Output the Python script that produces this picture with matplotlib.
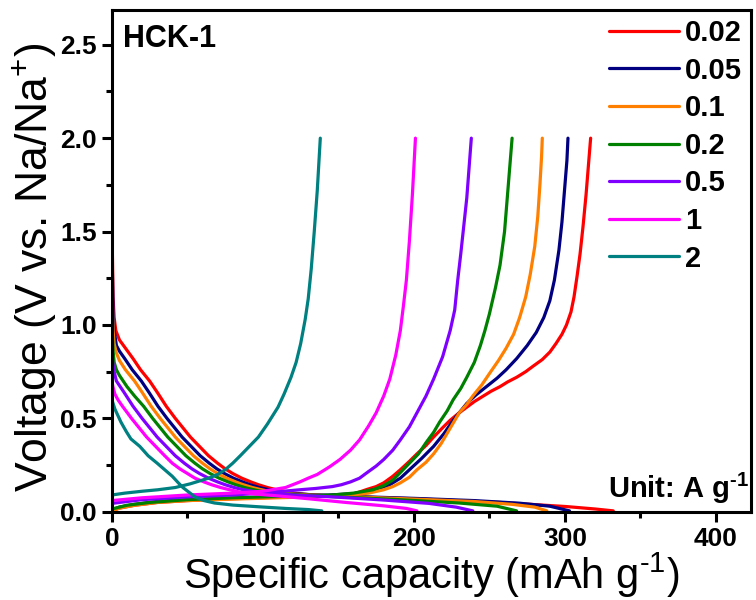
import numpy as np
import matplotlib
matplotlib.use("Agg")
import matplotlib.pyplot as plt
from matplotlib.ticker import MultipleLocator

plt.rcParams['font.family'] = ['Liberation Sans', 'DejaVu Sans']
plt.rcParams['mathtext.fontset'] = 'custom'
plt.rcParams['mathtext.rm'] = 'Liberation Sans'
plt.rcParams['mathtext.bf'] = 'Liberation Sans:bold'

rates = ["0.02", "0.05", "0.1", "0.2", "0.5", "1", "2"]
colors = ["#ff0000", "#000080", "#ff8000", "#008000", "#8000ff", "#ff00ff", "#008080"]

# discharge (sodiation) branches: capacity (mAh/g), voltage (V)
dis_cap = [
    [0, 0.3, 0.8, 1.5, 2.6, 5, 8.6, 14, 19, 25, 30, 36, 42, 47, 52, 58, 64, 70, 75, 80, 86, 92, 97, 103, 108, 114, 120, 130, 160, 200, 257, 301, 320, 332],
    [0, 0.3, 0.8, 1.5, 3, 5, 8.5, 13.5, 19.5, 24.5, 30.5, 36.5, 41.5, 46.5, 52.5, 58.5, 64.5, 69.5, 74.5, 80.5, 86.5, 91.5, 97.5, 103, 110, 120, 135, 160, 200, 240, 270, 290, 303],
    [0, 0.3, 0.8, 1.5, 3, 5, 9, 15, 20, 26, 32, 37, 42, 48, 54, 60, 65, 70, 76, 82, 87, 93, 98, 105, 115, 130, 160, 200, 240, 265, 280, 288],
    [0, 0.3, 0.8, 1.5, 3, 5, 10, 15, 21, 27, 32, 37, 43, 49, 55, 60, 65, 71, 77, 82, 88, 93, 100, 110, 125, 150, 190, 230, 255, 268],
    [0, 0.5, 1.5, 3, 8, 14, 20, 25, 30, 36, 42, 48, 53, 58, 64, 70, 75, 81, 86, 93, 103, 120, 150, 180, 210, 228, 239],
    [0, 0.7, 2, 4, 7, 13, 18, 23, 29, 35, 40, 45, 50, 55, 61, 66, 72, 77, 85, 95, 110, 130, 155, 180, 195, 202],
    [0, 2, 6, 9.5, 12.6, 18.5, 24, 30, 35, 40, 44, 47, 51, 55, 61, 68, 80, 97, 115, 130, 139],
]
dis_v = [
    [1.72, 1.4, 1.15, 1.04, 0.97, 0.92, 0.88, 0.82, 0.76, 0.70, 0.64, 0.565, 0.50, 0.45, 0.40, 0.35, 0.30, 0.26, 0.23, 0.205, 0.18, 0.16, 0.145, 0.13, 0.12, 0.11, 0.1, 0.092, 0.08, 0.07, 0.05, 0.028, 0.015, 0.005],
    [1.6, 1.3, 1.07, 0.97, 0.89, 0.86, 0.82, 0.76, 0.70, 0.64, 0.565, 0.50, 0.45, 0.40, 0.35, 0.30, 0.26, 0.23, 0.205, 0.18, 0.16, 0.145, 0.13, 0.12, 0.108, 0.098, 0.09, 0.082, 0.072, 0.06, 0.046, 0.03, 0.005],
    [1.33, 1.12, 0.97, 0.9, 0.85, 0.81, 0.76, 0.70, 0.64, 0.565, 0.50, 0.45, 0.40, 0.35, 0.30, 0.26, 0.23, 0.205, 0.18, 0.16, 0.145, 0.13, 0.12, 0.108, 0.098, 0.09, 0.08, 0.068, 0.055, 0.04, 0.025, 0.005],
    [1.1, 0.95, 0.86, 0.8, 0.76, 0.73, 0.67, 0.62, 0.565, 0.50, 0.45, 0.40, 0.35, 0.30, 0.26, 0.23, 0.205, 0.18, 0.16, 0.145, 0.13, 0.12, 0.108, 0.098, 0.09, 0.08, 0.065, 0.047, 0.03, 0.005],
    [0.85, 0.8, 0.75, 0.70, 0.64, 0.565, 0.50, 0.45, 0.40, 0.35, 0.30, 0.26, 0.23, 0.205, 0.18, 0.16, 0.145, 0.13, 0.12, 0.11, 0.1, 0.09, 0.078, 0.063, 0.045, 0.025, 0.005],
    [0.7, 0.67, 0.63, 0.60, 0.565, 0.50, 0.45, 0.40, 0.35, 0.30, 0.26, 0.23, 0.205, 0.18, 0.16, 0.145, 0.13, 0.12, 0.105, 0.095, 0.085, 0.07, 0.05, 0.032, 0.018, 0.005],
    [0.6, 0.55, 0.48, 0.43, 0.39, 0.35, 0.3, 0.26, 0.225, 0.19, 0.155, 0.13, 0.105, 0.08, 0.06, 0.047, 0.036, 0.027, 0.018, 0.012, 0.005],
]

# charge (desodiation) branches
chg_cap = [
    [0, 5, 15, 30, 50, 80, 110, 140, 160, 169, 175, 180, 186, 191, 197, 202, 208, 213, 219, 224, 230, 235, 240, 246, 251, 257, 262, 268, 274, 279, 285, 290, 294, 298, 301, 304, 306, 308, 310, 312, 314, 315.5, 317],
    [0, 5, 15, 30, 50, 80, 110, 140, 160, 169, 177, 184, 191, 197, 205, 213, 220, 226, 231, 235, 241, 248, 255, 261, 268, 275, 281, 286, 290, 293, 296, 298, 300, 301.3, 302],
    [0, 5, 15, 30, 50, 80, 110, 140, 158, 170, 180, 186, 191, 197, 202, 208, 213, 218, 222, 226, 230, 235, 239, 245, 250, 256, 261, 266, 270, 274, 277, 280, 282, 283.5, 284.5, 285],
    [0, 10, 25, 50, 80, 110, 146, 160, 173, 180, 186, 191, 197, 203, 208, 213, 217, 222, 226, 231, 235, 240, 244, 247, 250, 254, 257, 260, 262, 263.5, 265],
    [0, 20, 50, 80, 100, 124.5, 135, 146, 152, 158, 164, 169, 175, 180, 186, 191, 197, 202, 208, 213, 219, 224, 227, 229, 231, 233, 235, 236.5, 238],
    [0, 20, 50, 80, 100, 115, 124.5, 130, 136, 144, 151, 158, 164, 170, 175, 180, 184, 188, 191, 193, 195, 197, 199, 200, 201],
    [0, 8.6, 20, 30.5, 42, 52, 58, 64, 70, 75, 80, 85, 91, 97, 103, 110, 114, 118.6, 122, 125, 128, 130, 132, 134, 136, 137, 138],
]
chg_v = [
    [0.005, 0.02, 0.035, 0.05, 0.06, 0.07, 0.078, 0.085, 0.095, 0.12, 0.135, 0.155, 0.19, 0.225, 0.27, 0.31, 0.355, 0.40, 0.45, 0.49, 0.53, 0.56, 0.59, 0.62, 0.645, 0.67, 0.695, 0.72, 0.75, 0.78, 0.815, 0.855, 0.9, 0.95, 1.0, 1.07, 1.15, 1.26, 1.38, 1.53, 1.7, 1.85, 2.0],
    [0.01, 0.025, 0.04, 0.055, 0.065, 0.073, 0.08, 0.088, 0.097, 0.11, 0.125, 0.145, 0.18, 0.225, 0.285, 0.35, 0.42, 0.49, 0.54, 0.58, 0.625, 0.67, 0.715, 0.76, 0.82, 0.89, 0.96, 1.04, 1.13, 1.24, 1.4, 1.55, 1.75, 1.88, 2.0],
    [0.005, 0.02, 0.035, 0.05, 0.06, 0.068, 0.075, 0.082, 0.09, 0.1, 0.118, 0.135, 0.155, 0.185, 0.225, 0.265, 0.31, 0.365, 0.42, 0.475, 0.53, 0.575, 0.62, 0.68, 0.74, 0.81, 0.875, 0.95, 1.04, 1.15, 1.27, 1.42, 1.58, 1.76, 1.9, 2.0],
    [0.015, 0.035, 0.05, 0.065, 0.075, 0.082, 0.09, 0.1, 0.118, 0.14, 0.17, 0.21, 0.26, 0.31, 0.37, 0.425, 0.48, 0.54, 0.6, 0.66, 0.72, 0.8, 0.89, 0.97, 1.06, 1.2, 1.32, 1.5, 1.7, 1.85, 2.0],
    [0.045, 0.065, 0.08, 0.09, 0.1, 0.118, 0.125, 0.135, 0.145, 0.16, 0.18, 0.21, 0.245, 0.28, 0.33, 0.385, 0.455, 0.53, 0.62, 0.71, 0.83, 0.97, 1.08, 1.24, 1.38, 1.53, 1.68, 1.84, 2.0],
    [0.06, 0.075, 0.09, 0.1, 0.11, 0.13, 0.16, 0.18, 0.2, 0.24, 0.28, 0.33, 0.385, 0.46, 0.53, 0.62, 0.71, 0.84, 0.97, 1.1, 1.24, 1.45, 1.7, 1.85, 2.0],
    [0.09, 0.1, 0.11, 0.118, 0.13, 0.15, 0.165, 0.18, 0.2, 0.225, 0.26, 0.3, 0.35, 0.4, 0.47, 0.56, 0.63, 0.72, 0.8, 0.9, 1.03, 1.14, 1.3, 1.5, 1.72, 1.86, 2.0],
]

fig = plt.figure(figsize=(7.56, 6.0), dpi=100)
ax = fig.add_axes([0.148, 0.147, 0.845, 0.836])

for i, rate in enumerate(rates):
    ax.plot(dis_cap[i], dis_v[i], color=colors[i], lw=2.3, label=rate, solid_capstyle='round')
    ax.plot(chg_cap[i], chg_v[i], color=colors[i], lw=2.3, solid_capstyle='round')

ax.set_xlim(0, 423)
ax.set_ylim(0, 2.685)
ax.xaxis.set_major_locator(MultipleLocator(100))
ax.xaxis.set_minor_locator(MultipleLocator(50))
ax.yaxis.set_major_locator(MultipleLocator(0.5))
ax.yaxis.set_minor_locator(MultipleLocator(0.25))
ax.tick_params(which='both', direction='out', top=False, right=False, width=2.2)
ax.tick_params(which='major', length=7, labelsize=19, pad=4)
ax.tick_params(which='minor', length=4)
for lab in ax.get_xticklabels() + ax.get_yticklabels():
    lab.set_fontweight('bold')
for sp in ax.spines.values():
    sp.set_linewidth(2.2)

ax.set_xlabel("Specific capacity (mAh g$^{\u20101}$)", fontsize=30, labelpad=0)
ax.set_ylabel("Voltage (V vs. Na/Na$^{+}$)", fontsize=32)
ax.yaxis.set_label_coords(-0.085, 0.487)

ax.text(0.017, 0.972, "HCK-1", transform=ax.transAxes, fontsize=22,
        fontweight='bold', va='top', ha='left')
ax.text(0.998, 0.028, "Unit: A g$^{\\mathbf{\u20101}}$", transform=ax.transAxes,
        fontsize=21, fontweight='bold', va='baseline', ha='right')

leg = ax.legend(loc='upper right', frameon=False, fontsize=21,
                handlelength=2.4, handletextpad=0.2, labelspacing=0.33,
                borderaxespad=0.2, borderpad=0.1)
for t in leg.get_texts():
    t.set_fontweight('bold')

fig.savefig("out.png", dpi=100)
